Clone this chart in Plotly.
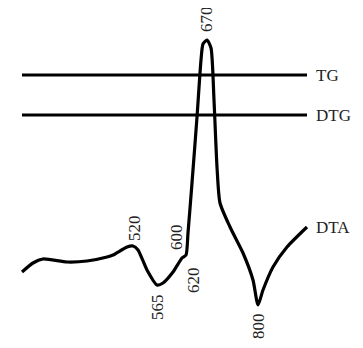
import plotly.graph_objects as go

# DTA trace (x: position, y: signal, up = positive)
dta_x = [22, 33, 43, 67, 87, 107, 113, 127, 133, 138, 147, 157, 163, 173, 182, 186,
         188, 192, 197, 201, 203, 207, 211, 214, 217, 220, 230, 243, 253, 258, 263,
         273, 287, 307]
dta_y = [76, 85, 89, 86, 87, 91, 93, 101, 102, 98, 78, 63, 65, 76, 90, 93,
         115, 165, 231, 288, 304, 308, 300, 248, 181, 145, 121, 95, 68, 43, 58,
         81, 101, 121]

# flat TG and DTG lines
line_x = [22, 307]
tg_y = 273
dtg_y = 233

curve_names = ['TG', 'DTG', 'DTA']
name_y = [273, 233, 121]

temps = ['670', '520', '600', '565', '620', '800']
temp_x = [206, 134, 176, 157, 193, 258]
temp_y = [329, 120, 111, 41, 68, 22]

fig = go.Figure()
fig.add_trace(go.Scatter(x=line_x, y=[tg_y, tg_y], mode='lines',
                         line=dict(color='black', width=3)))
fig.add_trace(go.Scatter(x=line_x, y=[dtg_y, dtg_y], mode='lines',
                         line=dict(color='black', width=3)))
fig.add_trace(go.Scatter(x=dta_x, y=dta_y, mode='lines',
                         line=dict(color='black', width=3.2, shape='spline', smoothing=0.6)))

for n, y in zip(curve_names, name_y):
    fig.add_annotation(x=314, y=y, text=n, showarrow=False, xanchor='left',
                       font=dict(family='Liberation Serif', size=17, color='#222'))
for t, x, y in zip(temps, temp_x, temp_y):
    fig.add_annotation(x=x, y=y, text=t, showarrow=False, textangle=-90,
                       font=dict(family='Liberation Serif', size=17, color='#222'))

# page body has an 8px margin, so the figure is shrunk and the ranges shifted
fig.update_layout(width=347, height=332, margin=dict(l=0, r=0, t=0, b=0),
                  plot_bgcolor='white', paper_bgcolor='white', showlegend=False)
fig.update_xaxes(range=[8, 355], visible=False)
fig.update_yaxes(range=[8, 340], visible=False)
fig.write_html("out.html")
